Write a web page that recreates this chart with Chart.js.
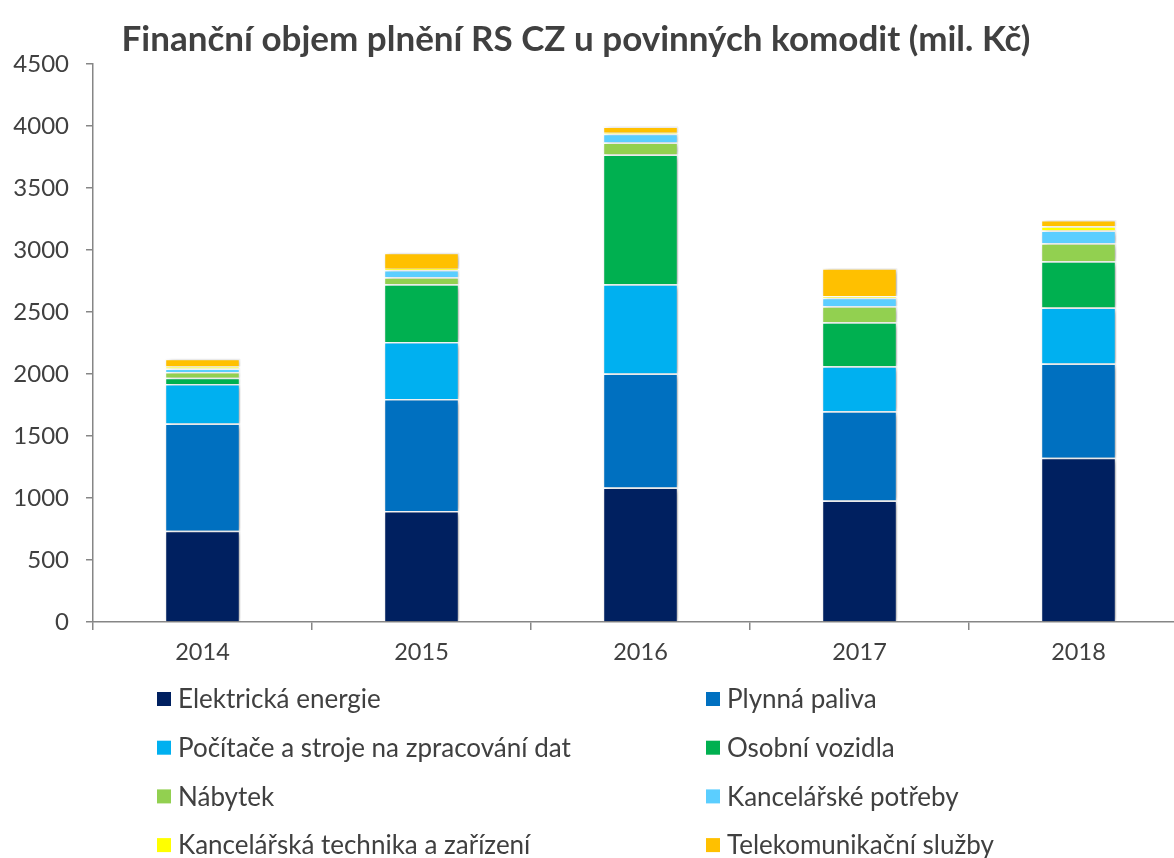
<html>
<head>
<style>
  body { margin: 0; overflow: hidden; background: #fff; }
</style>
</head>
<body>
<canvas id="myChart" width="1190" height="858"></canvas>

<script src="https://cdn.jsdelivr.net/npm/chart.js"></script>
<script>
  "use strict";

  const years = ['2014', '2015', '2016', '2017', '2018'];
  const yTicks = [0, 500, 1000, 1500, 2000, 2500, 3000, 3500, 4000, 4500];

  // mil. Kč
  const elektricka = [735, 895, 1085, 980, 1325];
  const plynna     = [865, 903, 920, 720, 760];
  const pocitace   = [320, 460, 718, 363, 451];
  const osobni     = [50, 466, 1048, 354, 374];
  const nabytek    = [46, 56, 95, 130, 145];
  const potreby    = [29, 59, 72, 67, 102];
  const technika   = [15, 10, 8, 15, 35];
  const telekom    = [62, 128, 50, 224, 50];

  const series = [
    ['Elektrická energie', elektricka, '#002060'],
    ['Plynná paliva', plynna, '#0070C0'],
    ['Počítače a stroje na zpracování dat', pocitace, '#00B0F0'],
    ['Osobní vozidla', osobni, '#00B050'],
    ['Nábytek', nabytek, '#92D050'],
    ['Kancelářské potřeby', potreby, '#5BCEFF'],
    ['Kancelářská technika a zařízení', technika, '#FFFF00'],
    ['Telekomunikační služby', telekom, '#FFC000']
  ];

  const txt = '#404040';
  const axisCol = '#868686';
  const font = 'Lato';

  const shadow = {
    id: 'shadow',
    beforeDatasetsDraw(chart) {
      const c = chart.ctx;
      c.save();
      c.shadowColor = 'rgba(0,0,0,0.28)';
      c.shadowBlur = 6;
      c.shadowOffsetX = 3;
      c.shadowOffsetY = 1;
    },
    afterDatasetsDraw(chart) { chart.ctx.restore(); }
  };

  const titleAndLegend = {
    id: 'titleAndLegend',
    afterDraw(chart) {
      const c = chart.ctx;
      c.save();
      c.fillStyle = txt;
      c.font = 'bold 35px ' + font;
      c.textAlign = 'center';
      c.textBaseline = 'alphabetic';
      c.fillText('Finanční objem plnění RS CZ u povinných komodit (mil. Kč)', 576, 51);

      c.font = '26px ' + font;
      c.textAlign = 'left';
      c.textBaseline = 'middle';
      chart.data.datasets.forEach((ds, i) => {
        const x = (i % 2) ? 706 : 157;
        const y = 699 + Math.floor(i / 2) * 48.7;
        c.fillStyle = ds.backgroundColor;
        c.fillRect(x, y - 7, 14, 14);
        c.fillStyle = txt;
        c.fillText(ds.label, x + 21, y + 1);
      });
      c.restore();
    }
  };

  const ctx = document.getElementById('myChart').getContext('2d');
  const chart = new Chart(ctx, {
    type: 'bar',
    data: {
      labels: years,
      datasets: series.map(s => ({
        label: s[0],
        data: s[1],
        backgroundColor: s[2],
        borderColor: '#ffffff',
        borderWidth: 1.5,
        categoryPercentage: 1,
        barPercentage: 0.345
      }))
    },
    options: {
      responsive: false,
      animation: false,
      layout: { padding: { top: 64, left: 0, right: 2, bottom: 176 } },
      scales: {
        x: {
          stacked: true,
          afterFit(s) { s.height = 60; },
          border: { color: axisCol, width: 1.5 },
          grid: { offset: true, drawOnChartArea: false, drawTicks: true, tickLength: 8, color: axisCol, lineWidth: 1.5 },
          ticks: { color: txt, font: { family: font, size: 23.5 }, padding: 8 }
        },
        y: {
          stacked: true,
          min: 0,
          max: 4500,
          afterFit(s) { s.width = 93; },
          afterBuildTicks(s) { s.ticks = yTicks.map(v => ({ value: v })); },
          border: { color: axisCol, width: 1.5 },
          grid: { drawOnChartArea: false, drawTicks: true, tickLength: 7, color: axisCol, lineWidth: 1.5 },
          ticks: { color: txt, font: { family: font, size: 24 }, padding: 17, callback: v => String(v) }
        }
      },
      plugins: {
        legend: { display: false },
        title: { display: false },
        tooltip: { enabled: false }
      }
    },
    plugins: [shadow, titleAndLegend]
  });
</script>
</body>
</html>
